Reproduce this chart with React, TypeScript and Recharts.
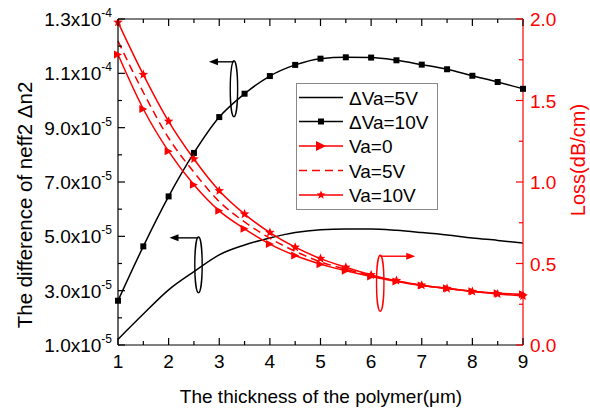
import React from "react";
import {
    ComposedChart,
    Line,
    XAxis,
    YAxis,
    ReferenceLine,
    ReferenceDot,
} from "recharts";

// polymer thickness (um)
const thickness = [1, 1.5, 2, 2.5, 3, 3.5, 4, 4.5, 5, 5.5, 6, 6.5, 7, 7.5, 8, 8.5, 9];

// difference of neff2 (left axis)
const dVa5 = [1.21e-5, 2.14e-5, 3.03e-5, 3.7e-5, 4.32e-5, 4.68e-5, 4.94e-5, 5.14e-5, 5.24e-5, 5.27e-5, 5.27e-5, 5.22e-5, 5.14e-5, 5.05e-5, 4.94e-5, 4.85e-5, 4.75e-5];
const dVa10 = [2.63e-5, 4.63e-5, 6.47e-5, 8.07e-5, 9.39e-5, 1.025e-4, 1.09e-4, 1.131e-4, 1.154e-4, 1.159e-4, 1.158e-4, 1.148e-4, 1.132e-4, 1.115e-4, 1.091e-4, 1.068e-4, 1.043e-4];

// loss dB/cm (right axis)
const loss0 = [1.782, 1.448, 1.188, 0.983, 0.823, 0.713, 0.619, 0.549, 0.496, 0.455, 0.42, 0.39, 0.365, 0.348, 0.33, 0.318, 0.311];
const loss5 = [1.864, 1.55, 1.27, 1.06, 0.88, 0.755, 0.655, 0.575, 0.51, 0.465, 0.425, 0.393, 0.366, 0.347, 0.329, 0.316, 0.306];
const loss10 = [1.98, 1.659, 1.372, 1.141, 0.946, 0.803, 0.69, 0.6, 0.53, 0.477, 0.43, 0.395, 0.367, 0.346, 0.328, 0.313, 0.301];

const xTicks = [1, 1.5, 2, 2.5, 3, 3.5, 4, 4.5, 5, 5.5, 6, 6.5, 7, 7.5, 8, 8.5, 9];
const leftTicks = [1e-5, 2e-5, 3e-5, 4e-5, 5e-5, 6e-5, 7e-5, 8e-5, 9e-5, 1e-4, 1.1e-4, 1.2e-4, 1.3e-4];
const leftTickLabels = [
    ["1.0x10", "-5"], null, ["3.0x10", "-5"], null, ["5.0x10", "-5"], null, ["7.0x10", "-5"],
    null, ["9.0x10", "-5"], null, ["1.1x10", "-4"], null, ["1.3x10", "-4"],
];
const rightTicks = [0, 0.25, 0.5, 0.75, 1, 1.25, 1.5, 1.75, 2];
const rightTickLabels = ["0.0", null, "0.5", null, "1.0", null, "1.5", null, "2.0"];

const legendItems = ["ΔVa=5V", "ΔVa=10V", "Va=0", "Va=5V", "Va=10V"];

const data = thickness.map((t, i) => ({
    t,
    dVa5: dVa5[i],
    dVa10: dVa10[i],
    loss0: loss0[i],
    loss5: loss5[i],
    loss10: loss10[i],
}));

const FONT = "'Liberation Sans', Arial, sans-serif";
const RED = "#ff0000";
const PLOT_LEFT = 118;
const PLOT_RIGHT = 523;
const PLOT_TOP = 19;
const PLOT_BOTTOM = 345;

function XTick(props: any) {
    const x = props.payload.coordinate;
    const major = Number.isInteger(props.payload.value);
    const len = major ? 7 : 4;
    return (
        <g>
            <line x1={x} x2={x} y1={PLOT_BOTTOM} y2={PLOT_BOTTOM - len} stroke="#000" strokeWidth={1.2} />
            <line x1={x} x2={x} y1={PLOT_TOP} y2={PLOT_TOP + len} stroke="#000" strokeWidth={1.2} />
            {major && (
                <text x={x} y={368} textAnchor="middle" fontSize={19} fontFamily={FONT} fill="#000">
                    {props.payload.value}
                </text>
            )}
        </g>
    );
}

function LeftTick(props: any) {
    const y = props.payload.coordinate;
    const lab = leftTickLabels[props.index];
    return (
        <g>
            <line x1={PLOT_LEFT} x2={PLOT_LEFT + (lab ? 7 : 4)} y1={y} y2={y} stroke="#000" strokeWidth={1.2} />
            {lab && (
                <text x={112} y={y + 7} textAnchor="end" fontSize={19} fontFamily={FONT} fill="#000">
                    {lab[0]}
                    <tspan dy={-9} fontSize={12}>{lab[1]}</tspan>
                </text>
            )}
        </g>
    );
}

function RightTick(props: any) {
    const y = props.payload.coordinate;
    const lab = rightTickLabels[props.index];
    return (
        <g>
            <line x1={PLOT_RIGHT} x2={PLOT_RIGHT - (lab ? 7 : 4)} y1={y} y2={y} stroke={RED} strokeWidth={1.2} />
            {lab && (
                <text x={530} y={y + 7} textAnchor="start" fontSize={19} fontFamily={FONT} fill={RED}>
                    {lab}
                </text>
            )}
        </g>
    );
}

function SquareDot(props: any) {
    const { cx, cy } = props;
    if (cx == null || cy == null) return null;
    return <rect key={props.index} x={cx - 3} y={cy - 3} width={6} height={6} fill="#000" />;
}

function triPath(cx: number, cy: number, s: number) {
    return `M${cx - s},${cy - s} L${cx + s},${cy} L${cx - s},${cy + s} Z`;
}

function TriDot(props: any) {
    const { cx, cy } = props;
    if (cx == null || cy == null) return null;
    return <path key={props.index} d={triPath(cx, cy, 4)} fill={RED} />;
}

function starPath(cx: number, cy: number, r: number) {
    let d = "";
    for (let i = 0; i < 10; i++) {
        const rr = i % 2 === 0 ? r : r * 0.45;
        const a = -Math.PI / 2 + (i * Math.PI) / 5;
        d += (i === 0 ? "M" : "L") + (cx + rr * Math.cos(a)).toFixed(2) + "," + (cy + rr * Math.sin(a)).toFixed(2);
    }
    return d + "Z";
}

function StarDot(props: any) {
    const { cx, cy } = props;
    if (cx == null || cy == null) return null;
    return <path key={props.index} d={starPath(cx, cy, 5)} fill={RED} />;
}

// ellipse with an arrow coming out of its top
function makeMarker(dir: number, color: string, len: number) {
    return (props: any) => {
        const { cx, cy } = props;
        if (cx == null || cy == null) return <g />;
        const ry = 28;
        const ty = cy - ry + 1;
        const ex = cx + dir * len;
        return (
            <g>
                <ellipse cx={cx} cy={cy} rx={3.7} ry={ry} fill="none" stroke={color} strokeWidth={1.4} />
                <line x1={cx} x2={ex - dir * 6} y1={ty} y2={ty} stroke={color} strokeWidth={1.4} />
                <path d={`M${ex},${ty} L${ex - dir * 9},${ty - 3.5} L${ex - dir * 9},${ty + 3.5} Z`} fill={color} />
            </g>
        );
    };
}

function LegendBox() {
    const rowY = [14.6, 38.5, 63, 87.5, 112];
    return (
        <svg width={142} height={127} style={{ display: "block" }}>
            <rect x={0.5} y={0.5} width={141} height={126} fill="#fff" stroke="#888" strokeWidth={1} />
            {/* dVa=5V */}
            <line x1={3} x2={47} y1={rowY[0]} y2={rowY[0]} stroke="#000" strokeWidth={1.5} />
            {/* dVa=10V */}
            <line x1={3} x2={47} y1={rowY[1]} y2={rowY[1]} stroke="#000" strokeWidth={1.5} />
            <rect x={22} y={rowY[1] - 3} width={6} height={6} fill="#000" />
            {/* Va=0 */}
            <line x1={3} x2={47} y1={rowY[2]} y2={rowY[2]} stroke={RED} strokeWidth={1.5} />
            <path d={triPath(25, rowY[2], 5)} fill={RED} />
            {/* Va=5V */}
            <line x1={3} x2={47} y1={rowY[3]} y2={rowY[3]} stroke={RED} strokeWidth={1.5} strokeDasharray="8 5" />
            {/* Va=10V */}
            <line x1={3} x2={47} y1={rowY[4]} y2={rowY[4]} stroke={RED} strokeWidth={1.5} />
            <path d={starPath(25, rowY[4], 4.5)} fill={RED} />
            {legendItems.map((s, i) => (
                <text key={s} x={53} y={rowY[i] + 7} fontSize={19} fontFamily={FONT} fill="#000">
                    {s}
                </text>
            ))}
        </svg>
    );
}

export default function App() {
    return (
        <div style={{ position: "absolute", left: 0, top: 0, width: 590, height: 412, background: "#fff" }}>
            <ComposedChart
                width={590}
                height={412}
                data={data}
                margin={{ top: PLOT_TOP, right: 590 - PLOT_RIGHT - 60, bottom: 412 - PLOT_BOTTOM - 40, left: PLOT_LEFT - 60 }}
            >
                <XAxis
                    dataKey="t"
                    type="number"
                    domain={[1, 9]}
                    ticks={xTicks}
                    interval={0}
                    height={40}
                    axisLine={{ stroke: "#000", strokeWidth: 1.2 }}
                    tickLine={false}
                    tick={XTick}
                    label={{
                        content: () => (
                            <text x={321} y={403} textAnchor="middle" fontSize={19} fontFamily={FONT} fill="#000">
                                The thickness of the polymer(μm)
                            </text>
                        ),
                    }}
                />
                <YAxis
                    yAxisId="left"
                    orientation="left"
                    width={60}
                    type="number"
                    domain={[1e-5, 1.3e-4]}
                    ticks={leftTicks}
                    interval={0}
                    allowDataOverflow
                    axisLine={{ stroke: "#000", strokeWidth: 1.2 }}
                    tickLine={false}
                    tick={LeftTick}
                    label={{
                        content: () => (
                            <text
                                x={24}
                                y={205}
                                transform="rotate(-90 24 205)"
                                textAnchor="middle"
                                dominantBaseline="central"
                                fontSize={20.5}
                                fontFamily={FONT}
                                fill="#000"
                            >
                                The difference of neff2 Δn2
                            </text>
                        ),
                    }}
                />
                <YAxis
                    yAxisId="right"
                    orientation="right"
                    width={60}
                    type="number"
                    domain={[0, 2]}
                    ticks={rightTicks}
                    interval={0}
                    allowDataOverflow
                    axisLine={{ stroke: RED, strokeWidth: 1.2 }}
                    tickLine={false}
                    tick={RightTick}
                    label={{
                        content: () => (
                            <text
                                x={578}
                                y={160}
                                transform="rotate(-90 578 160)"
                                textAnchor="middle"
                                dominantBaseline="central"
                                fontSize={20}
                                fontFamily={FONT}
                                fill={RED}
                            >
                                Loss(dB/cm)
                            </text>
                        ),
                    }}
                />
                <ReferenceLine yAxisId="left" y={1.3e-4} stroke="#000" strokeWidth={1.2} />

                <Line yAxisId="left" type="monotone" dataKey="dVa5" stroke="#000" strokeWidth={1.5} dot={false} isAnimationActive={false} />
                <Line yAxisId="left" type="monotone" dataKey="dVa10" stroke="#000" strokeWidth={1.5} dot={SquareDot} isAnimationActive={false} />
                <Line yAxisId="right" type="monotone" dataKey="loss0" stroke={RED} strokeWidth={1.5} dot={TriDot} isAnimationActive={false} />
                <Line yAxisId="right" type="monotone" dataKey="loss5" stroke={RED} strokeWidth={1.5} strokeDasharray="8 5" dot={false} isAnimationActive={false} />
                <Line yAxisId="right" type="monotone" dataKey="loss10" stroke={RED} strokeWidth={1.5} dot={StarDot} isAnimationActive={false} />

                <ReferenceDot yAxisId="left" x={3.29} y={1.043e-4} r={0} shape={makeMarker(-1, "#000", 25)} />
                <ReferenceDot yAxisId="left" x={2.59} y={3.95e-5} r={0} shape={makeMarker(-1, "#000", 29)} />
                <ReferenceDot yAxisId="right" x={6.18} y={0.379} r={0} shape={makeMarker(1, RED, 35)} />
            </ComposedChart>
            <div style={{ position: "absolute", left: 296, top: 83 }}>
                <LegendBox />
            </div>
        </div>
    );
}
